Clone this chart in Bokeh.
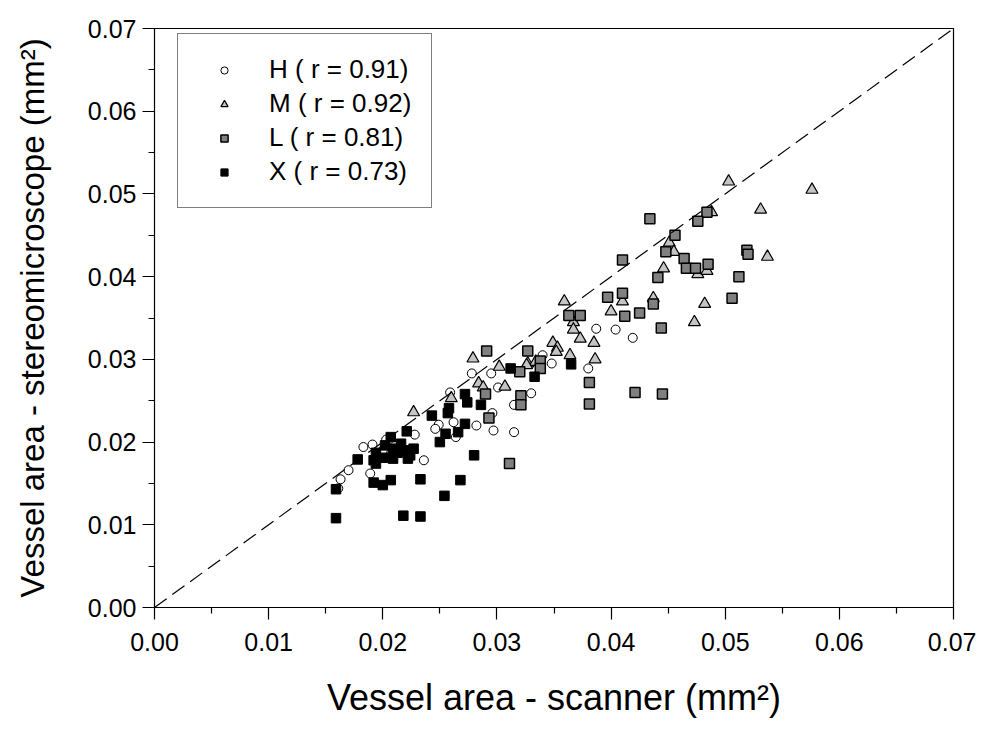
from bokeh.plotting import figure
from bokeh.models import Legend, LegendItem, Range1d, FixedTicker, PrintfTickFormatter, Slope
from bokeh.embed import file_html
from bokeh.resources import INLINE

# ---- data (mm^2) ----
h_x = [0.0161, 0.0163, 0.0170, 0.0183, 0.0191, 0.0200, 0.0203, 0.0189, 0.0236, 0.0228,
       0.0249, 0.0246, 0.0262, 0.0282, 0.0264, 0.0297, 0.0315, 0.0259, 0.0301, 0.0315,
       0.0330, 0.0296, 0.0211, 0.0278, 0.0295, 0.0340, 0.0348, 0.0380, 0.0387, 0.0404,
       0.0419]
h_y = [0.0144, 0.0155, 0.0166, 0.0194, 0.0197, 0.0190, 0.0203, 0.0162, 0.0178, 0.0209,
       0.0221, 0.0216, 0.0224, 0.0220, 0.0206, 0.0214, 0.0212, 0.0260, 0.0266, 0.0245,
       0.0259, 0.0235, 0.0196, 0.0283, 0.0283, 0.0305, 0.0295, 0.0289, 0.0337, 0.0336,
       0.0326]

m_x = [0.0227, 0.0260, 0.0279, 0.0284, 0.0288, 0.0307, 0.0302, 0.0327, 0.0334, 0.0349,
       0.0353, 0.0352, 0.0359, 0.0367, 0.0367, 0.0373, 0.0385, 0.0364, 0.0386, 0.0400,
       0.0410, 0.0437, 0.0446, 0.0451, 0.0455, 0.0482, 0.0473, 0.0503, 0.0576, 0.0531,
       0.0488, 0.0537, 0.0476, 0.0484, 0.0326]
m_y = [0.0236, 0.0253, 0.0301, 0.0271, 0.0266, 0.0267, 0.0291, 0.0295, 0.0297, 0.0320,
       0.0314, 0.0309, 0.0370, 0.0345, 0.0336, 0.0325, 0.0320, 0.0305, 0.0300, 0.0358,
       0.0370, 0.0374, 0.0410, 0.0441, 0.0430, 0.0367, 0.0345, 0.0515, 0.0505, 0.0481,
       0.0478, 0.0424, 0.0403, 0.0407, 0.0293]

l_x = [0.0291, 0.0290, 0.0321, 0.0321, 0.0293, 0.0311, 0.0327, 0.0338, 0.0338, 0.0320,
       0.0363, 0.0373, 0.0397, 0.0410, 0.0410, 0.0412, 0.0425, 0.0437, 0.0444, 0.0441,
       0.0448, 0.0456, 0.0381, 0.0381, 0.0421, 0.0445, 0.0434, 0.0484, 0.0476, 0.0464,
       0.0466, 0.0474, 0.0485, 0.0519, 0.0520, 0.0512, 0.0506]
l_y = [0.0310, 0.0258, 0.0256, 0.0245, 0.0229, 0.0174, 0.0310, 0.0298, 0.0289, 0.0285,
       0.0353, 0.0353, 0.0375, 0.0380, 0.0420, 0.0352, 0.0356, 0.0367, 0.0338, 0.0399,
       0.0430, 0.0450, 0.0272, 0.0246, 0.0260, 0.0258, 0.0470, 0.0478, 0.0467, 0.0422,
       0.0410, 0.0410, 0.0415, 0.0432, 0.0427, 0.0400, 0.0374]

x_x = [0.0159, 0.0159, 0.0178, 0.0194, 0.0192, 0.0201, 0.0209, 0.0213, 0.0220, 0.0227,
       0.0222, 0.0209, 0.0194, 0.0207, 0.0221, 0.0192, 0.0200, 0.0207, 0.0233, 0.0218,
       0.0233, 0.0243, 0.0258, 0.0257, 0.0255, 0.0266, 0.0250, 0.0272, 0.0274, 0.0286,
       0.0272, 0.0280, 0.0268, 0.0254, 0.0312, 0.0333, 0.0365, 0.0202, 0.0216, 0.0224]
x_y = [0.0143, 0.0108, 0.0179, 0.0187, 0.0178, 0.0181, 0.0192, 0.0187, 0.0190, 0.0192,
       0.0180, 0.0180, 0.0174, 0.0206, 0.0213, 0.0151, 0.0148, 0.0154, 0.0155, 0.0111,
       0.0110, 0.0232, 0.0241, 0.0235, 0.0210, 0.0212, 0.0200, 0.0258, 0.0248, 0.0245,
       0.0222, 0.0184, 0.0154, 0.0135, 0.0289, 0.0279, 0.0294, 0.0196, 0.0198, 0.0184]

legend_labels = ["H ( r = 0.91)", "M ( r = 0.92)", "L ( r = 0.81)", "X ( r = 0.73)"]
ticks = [0.00, 0.01, 0.02, 0.03, 0.04, 0.05, 0.06, 0.07]
minor = [0.005, 0.015, 0.025, 0.035, 0.045, 0.055, 0.065]

FONT = "Liberation Sans"

p = figure(width=976, height=721, output_backend="svg", toolbar_location=None,
           x_range=Range1d(0, 0.07), y_range=Range1d(0, 0.07),
           min_border_left=154, min_border_right=23, min_border_top=28, min_border_bottom=114)
p.grid.visible = False
p.outline_line_color = "black"
p.outline_line_width = 1.2
p.background_fill_color = "white"
p.border_fill_color = "white"

for ax in (p.xaxis[0], p.yaxis[0]):
    ax.ticker = FixedTicker(ticks=ticks, minor_ticks=minor)
    ax.formatter = PrintfTickFormatter(format="%.2f")
    ax.major_tick_out = 12
    ax.major_tick_in = 0
    ax.minor_tick_out = 6
    ax.minor_tick_in = 0
    ax.axis_line_color = "black"
    ax.major_tick_line_color = "black"
    ax.minor_tick_line_color = "black"
    ax.major_tick_line_width = 1.2
    ax.minor_tick_line_width = 1.2
    ax.major_label_text_font = FONT
    ax.major_label_text_font_size = "25px"
    ax.major_label_text_color = "black"
    ax.axis_label_text_font = FONT
    ax.axis_label_text_font_style = "normal"
    ax.axis_label_text_color = "black"

p.xaxis.axis_label = "Vessel area - scanner (mm²)"
p.yaxis.axis_label = "Vessel area - stereomicroscope (mm²)"
p.xaxis.axis_label_text_font_size = "36px"
p.yaxis.axis_label_text_font_size = "33px"
p.xaxis.major_label_standoff = 13
p.yaxis.major_label_standoff = 6
p.xaxis.axis_label_standoff = 23
p.yaxis.axis_label_standoff = 34

p.add_layout(Slope(gradient=1, y_intercept=0, line_color="black", line_width=1.2,
                   line_dash="15 7"))

r_h = p.scatter(h_x, h_y, marker="circle", size=9, fill_color="white",
                line_color="black", line_width=1)
r_m = p.scatter(m_x, m_y, marker="triangle", size=12, fill_color="#c4c4c4",
                line_color="black", line_width=1.2)
r_l = p.scatter(l_x, l_y, marker="square", size=10, fill_color="#808080",
                line_color="black", line_width=1.5)
r_x = p.scatter(x_x, x_y, marker="square", size=9.5, fill_color="black",
                line_color="black", line_width=1)

legend = Legend(items=[LegendItem(label=legend_labels[0], renderers=[r_h]),
                       LegendItem(label=legend_labels[1], renderers=[r_m]),
                       LegendItem(label=legend_labels[2], renderers=[r_l]),
                       LegendItem(label=legend_labels[3], renderers=[r_x])],
                location=(23, 399), orientation="vertical",
                label_text_font=FONT, label_text_font_size="26px", label_text_color="black",
                label_height=30, glyph_height=18, glyph_width=52, spacing=3,
                padding=20, margin=0, label_standoff=19,
                border_line_color="black", border_line_width=1.5,
                background_fill_color="white", background_fill_alpha=1)
p.add_layout(legend, "center")

open("out.html", "w").write(file_html(p, INLINE))
